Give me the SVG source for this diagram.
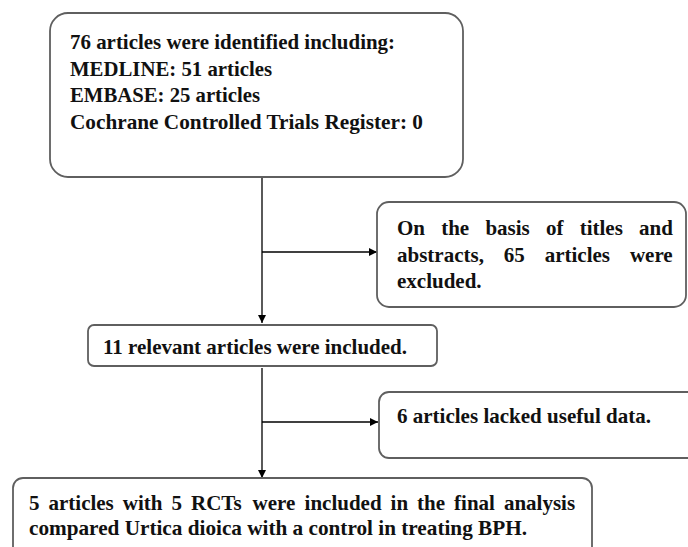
<svg xmlns="http://www.w3.org/2000/svg" width="688" height="547" viewBox="0 0 688 547">
<style>
.box{fill:#fff;stroke:#5f5f5f;stroke-width:1.8}
.t{font-family:"Liberation Serif","Times New Roman",serif;font-weight:bold;font-size:21px;fill:#111}
.ln{stroke:#000;stroke-width:1.3;fill:none}
</style>
<defs>
<marker id="ah" viewBox="0 0 10 10" refX="10" refY="5" markerWidth="8" markerHeight="8" markerUnits="userSpaceOnUse" orient="auto">
<path d="M0,0 L10,5 L0,10 z" fill="#000"/>
</marker>
</defs>
<rect width="688" height="547" fill="#fff"/>
<g id="connectors">
<path class="ln" d="M262,177 V323" marker-end="url(#ah)"/>
<path class="ln" d="M262,252 H377" marker-end="url(#ah)"/>
<path class="ln" d="M262,368 V478" marker-end="url(#ah)"/>
<path class="ln" d="M262,422 H378" marker-end="url(#ah)"/>
</g>
<g id="identified">
<rect class="box" x="50" y="13" width="413" height="164" rx="18"/>
<text class="t" x="70" y="49" textLength="325" lengthAdjust="spacingAndGlyphs">76 articles were identified including:</text>
<text class="t" x="70" y="76" textLength="202" lengthAdjust="spacingAndGlyphs">MEDLINE: 51 articles</text>
<text class="t" x="70" y="102" textLength="190" lengthAdjust="spacingAndGlyphs">EMBASE: 25 articles</text>
<text class="t" x="70" y="129" textLength="353" lengthAdjust="spacingAndGlyphs">Cochrane Controlled Trials Register:  0</text>
</g>
<g id="excluded">
<rect class="box" x="377" y="202" width="309" height="105" rx="12"/>
<text class="t" y="235"><tspan x="397">On</tspan> <tspan x="441.2">the</tspan> <tspan x="485.4">basis</tspan> <tspan x="546">of</tspan> <tspan x="579.7">titles</tspan> <tspan x="639.1">and</tspan></text>
<text class="t" y="262"><tspan x="397">abstracts,</tspan> <tspan x="503.8">65</tspan> <tspan x="544.7">articles</tspan> <tspan x="629.9">were</tspan></text>
<text class="t" x="397" y="288">excluded.</text>
</g>
<g id="relevant">
<rect class="box" x="88" y="325" width="349" height="41" rx="6"/>
<text class="t" x="103" y="354" textLength="304" lengthAdjust="spacingAndGlyphs">11 relevant articles were included.</text>
</g>
<g id="lacked">
<rect class="box" x="379" y="392" width="330" height="66" rx="10"/>
<text class="t" x="397" y="423" textLength="254" lengthAdjust="spacingAndGlyphs">6 articles lacked useful data.</text>
</g>
<g id="final">
<rect class="box" x="13" y="478" width="579" height="90" rx="10"/>
<text class="t" y="510"><tspan x="29">5</tspan> <tspan x="48.5">articles</tspan> <tspan x="122.8">with</tspan> <tspan x="171.5">5</tspan> <tspan x="191">RCTs</tspan> <tspan x="252.5">were</tspan> <tspan x="304.6">included</tspan> <tspan x="390.6">in</tspan> <tspan x="417.1">the</tspan> <tspan x="454.1">final</tspan> <tspan x="503.9">analysis</tspan></text>
<text class="t" x="29" y="535" textLength="498" lengthAdjust="spacingAndGlyphs">compared Urtica dioica with a control in treating BPH.</text>
</g>
</svg>
